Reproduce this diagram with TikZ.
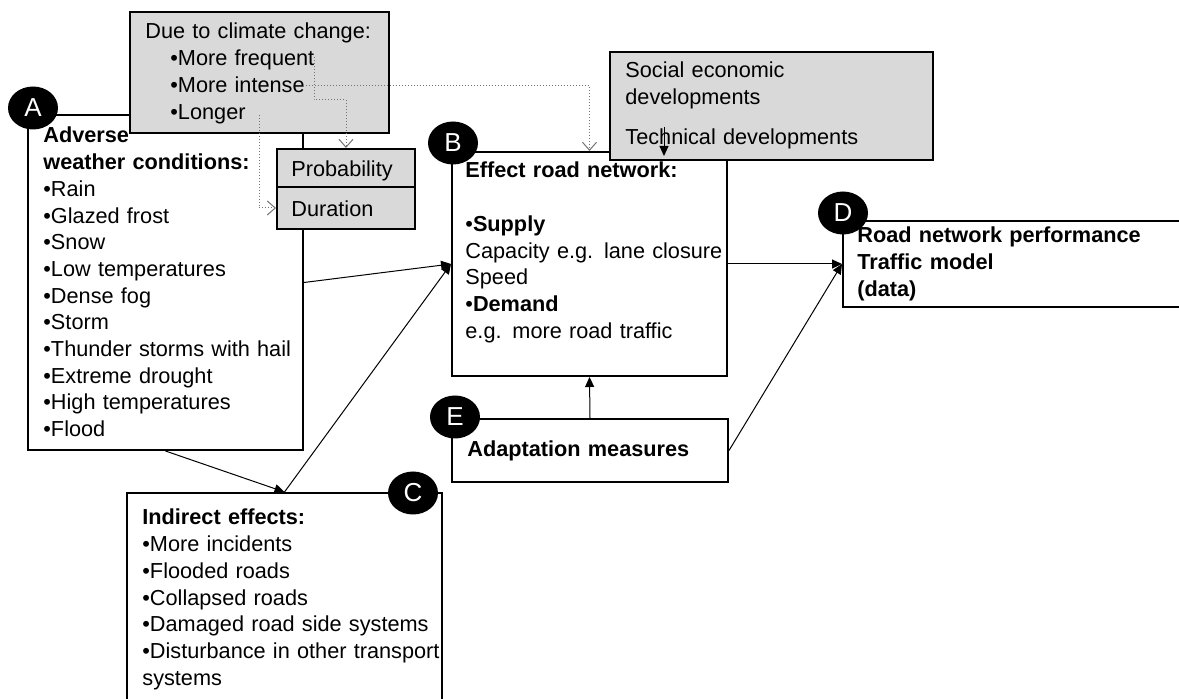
\documentclass[tikz,border=0pt]{standalone}
\usepackage{fontspec}
\setmainfont{Liberation Sans}
\usetikzlibrary{arrows.meta,fit,shapes.geometric}
\definecolor{boxgray}{RGB}{217,217,217}
\tikzset{
  box/.style={draw, line width=1pt, inner sep=0pt},
  graybox/.style={box, fill=boxgray},
  txt/.style={anchor=base west, inner sep=0pt, align=left, text width=180pt,
    font=\fontsize{10.85pt}{13.35pt}\selectfont},
  badge/.style={ellipse, fill=black, text=white, inner sep=0pt,
    minimum width=25pt, minimum height=21.5pt, font=\fontsize{13pt}{14pt}\selectfont},
  link/.style={line width=0.5pt, -{Triangle[length=5pt,width=4.5pt]}},
  hint/.style={black!55, densely dotted, line width=0.5pt,
    -{Straight Barb[length=4pt,width=7pt]}}
}
\begin{document}
\begin{tikzpicture}[x=0.5pt,y=-0.5pt]
    \useasboundingbox (0,0) rectangle (1179,699);

    % boxes
    \node[box, fit={(28,115) (303,450)}] (A) {};
    \node[box, fit={(127,493) (442,720)}] (C) {};
    \node[box, fit={(452,152) (727,376)}] (B) {};
    \node[box, fit={(843,221) (1190,307)}] (D) {};
    \node[box, fit={(452,419) (728,482)}] (E) {};
    \node[graybox, fit={(130,12) (389,133)}] (climate) {};
    \node[graybox, fit={(277,149) (415,187)}] (Prob) {};
    \node[graybox, fit={(277,187) (415,229)}] (Dur) {};
    \node[graybox, fit={(610,52) (933,160)}] (socio) {};

    % texts
    \node[txt] (Atxt) at (43,143) {\textbf{Adverse}\\ \textbf{weather conditions:}\\
      •Rain\\ •Glazed frost\\ •Snow\\ •Low temperatures\\ •Dense fog\\ •Storm\\
      •Thunder storms with hail\\ •Extreme drought\\ •High temperatures\\ •Flood};
    \node[txt] (climatetxt) at (145,39) {Due to climate change:\\
      \hspace*{12.5pt}•More frequent\\ \hspace*{12.5pt}•More intense\\ \hspace*{12.5pt}•Longer};
    \node[txt] (Probtxt) at (291,177) {Probability};
    \node[txt] (Durtxt) at (291,217) {Duration};
    \node[txt] (sociotxt) at (625,78) {Social economic\\ developments\\[6.5pt] Technical developments};
    \node[txt] (Btxt) at (465,178) {\textbf{Effect road network:}\\[13.35pt]
      •\textbf{Supply}\\ Capacity e.g. lane closure\\ Speed\\ •\textbf{Demand}\\ e.g. more road traffic};
    \node[txt] (Dtxt) at (857,243) {\textbf{Road network performance}\\ \textbf{Traffic model}\\ \textbf{(data)}};
    \node[txt] (Etxt) at (467,457) {\textbf{Adaptation measures}};
    \node[txt] (Ctxt) at (142,525) {\textbf{Indirect effects:}\\ •More incidents\\ •Flooded roads\\
      •Collapsed roads\\ •Damaged road side systems\\ •Disturbance in other transport\\ systems};

    % dotted hints from the climate box
    \coordinate (freqend) at (314,57);
    \coordinate (intenseend) at (303,86);
    \coordinate (longerend) at (259,115);
    \draw[hint] (freqend) -- ++(0,43) -| (Prob.north);
    \draw[hint] (intenseend) -| (B.north);
    \draw[hint] (longerend) |- (Dur.west);

    % arrows
    \coordinate (techsrc) at (664,127);
    \draw[link, shorten >=-2.5pt] (techsrc) -- (techsrc |- B.north);
    \draw[link] (A.east) -- (B.west);
    \draw[link] (C.north) -- (B.west);
    \draw[link] (A.south) -- (C.north);
    \draw[link] (B.east) -- (D.west);
    \draw[link] (E.east) -- (D.west);
    \draw[link] (E.north) -- (B.south);

    % letters
    \node[badge] (cA) at (33,108) {A};
    \node[badge] (cB) at (453,143) {B};
    \node[badge] (cC) at (413,493) {C};
    \node[badge] (cD) at (843,213) {D};
    \node[badge] (cE) at (455,417) {E};
\end{tikzpicture}
\end{document}
